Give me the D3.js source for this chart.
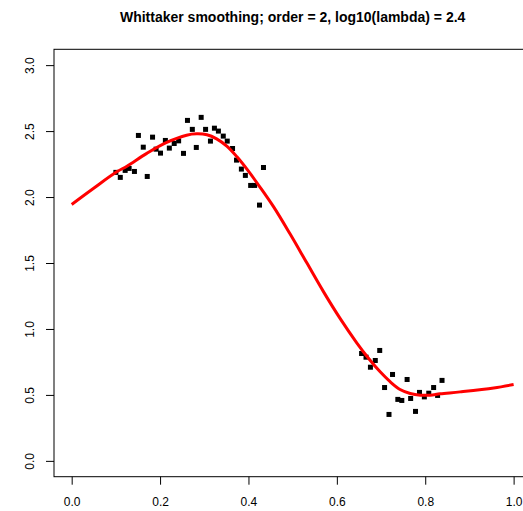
<!DOCTYPE html>
<html>
<head>
<meta charset="utf-8">
<script src="https://cdn.jsdelivr.net/npm/d3@7"></script>
<style>
  html, body { margin: 0; padding: 0; background: #fff; }
  svg { display: block; font-family: "Liberation Sans", Arial, Helvetica, sans-serif; }
</style>
</head>
<body>
<div id="chart"></div>
<script>
// Observed data (x, y)
const pointX = [0.100, 0.110, 0.121, 0.130, 0.142, 0.151, 0.162, 0.171, 0.183, 0.191,
                0.201, 0.212, 0.221, 0.232, 0.242, 0.253, 0.262, 0.273, 0.282, 0.293,
                0.303, 0.314, 0.323, 0.332, 0.343, 0.352, 0.364, 0.373, 0.384, 0.393,
                0.405, 0.414, 0.425, 0.434,
                0.656, 0.666, 0.676, 0.687, 0.697, 0.708, 0.718, 0.726, 0.738, 0.747,
                0.759, 0.767, 0.778, 0.787, 0.798, 0.808, 0.819, 0.828, 0.838];
const pointY = [2.187, 2.149, 2.202, 2.217, 2.194, 2.467, 2.378, 2.156, 2.454, 2.363,
                2.333, 2.429, 2.371, 2.406, 2.426, 2.331, 2.581, 2.513, 2.376, 2.604,
                2.513, 2.424, 2.522, 2.500, 2.462, 2.424, 2.368, 2.280, 2.212, 2.164,
                2.088, 2.088, 1.939, 2.224,
                0.814, 0.786, 0.710, 0.761, 0.837, 0.556, 0.352, 0.655, 0.466, 0.458,
                0.617, 0.473, 0.375, 0.519, 0.485, 0.513, 0.556, 0.496, 0.610];

// Smoothed curve
const curveX = [0.000, 0.049, 0.102, 0.125, 0.170, 0.215, 0.260, 0.283, 0.306, 0.328,
                0.351, 0.374, 0.400, 0.426, 0.457, 0.494, 0.532, 0.570, 0.608, 0.645,
                0.672, 0.698, 0.721, 0.743, 0.766, 0.789, 0.811, 0.834, 0.879, 0.955, 1.000];
const curveY = [1.944, 2.065, 2.191, 2.234, 2.331, 2.414, 2.469, 2.479, 2.472, 2.441,
                2.386, 2.305, 2.196, 2.076, 1.925, 1.721, 1.501, 1.281, 1.076, 0.895,
                0.776, 0.675, 0.599, 0.541, 0.511, 0.498, 0.498, 0.508, 0.523, 0.553, 0.579];

const xTicks = [0, 0.2, 0.4, 0.6, 0.8, 1.0];
const yTicks = [0, 0.5, 1.0, 1.5, 2.0, 2.5, 3.0];
const title = "Whittaker smoothing; order = 2, log10(lambda) = 2.4";

const width = 523, height = 511;
const plot = { left: 54, right: 531.3, top: 49.3, bottom: 476.7 };

const svg = d3.select('#chart')
    .append('svg')
    .attr('width', width)
    .attr('height', height);

const x = d3.scaleLinear().domain([-0.04, 1.04]).range([plot.left, plot.right]);
const y = d3.scaleLinear().domain([-0.12, 3.12]).range([plot.bottom, plot.top]);

// Title
svg.append('text')
    .attr('x', (plot.left + plot.right) / 2)
    .attr('y', 22)
    .attr('text-anchor', 'middle')
    .attr('font-size', '14px')
    .attr('font-weight', 'bold')
    .text(title);

// Box
svg.append('rect')
    .attr('x', plot.left)
    .attr('y', plot.top)
    .attr('width', plot.right - plot.left)
    .attr('height', plot.bottom - plot.top)
    .attr('fill', 'none')
    .attr('stroke', '#000')
    .attr('stroke-width', 1);

// X axis
const xAxis = svg.append('g')
    .attr('transform', `translate(0,${plot.bottom})`)
    .call(d3.axisBottom(x).tickValues(xTicks).tickFormat(d3.format('.1f'))
        .tickSize(8).tickPadding(13).tickSizeOuter(0));
xAxis.select('.domain').remove();
xAxis.selectAll('text').attr('font-size', '12px').attr('fill', '#000').style('font-family', 'inherit');

// Y axis, labels rotated like R's default
const yAxis = svg.append('g')
    .attr('transform', `translate(${plot.left},0)`)
    .call(d3.axisLeft(y).tickValues(yTicks).tickFormat(d3.format('.1f'))
        .tickSize(8).tickSizeOuter(0));
yAxis.select('.domain').remove();
yAxis.selectAll('text')
    .attr('transform', 'rotate(-90)')
    .attr('x', 0)
    .attr('y', -20)
    .attr('dy', '0')
    .attr('text-anchor', 'middle')
    .attr('font-size', '12px')
    .attr('fill', '#000')
    .style('font-family', 'inherit');

// Points
const points = pointX.map((d, i) => ({ x: d, y: pointY[i] }));
const s = 5;
svg.append('g').selectAll('rect').data(points)
    .enter()
    .append('rect')
    .attr('x', d => x(d.x) - s / 2)
    .attr('y', d => y(d.y) - s / 2)
    .attr('width', s)
    .attr('height', s)
    .attr('fill', '#000');

// Smoothed curve
const curve = curveX.map((d, i) => ({ x: d, y: curveY[i] }));
svg.append('path')
    .datum(curve)
    .attr('fill', 'none')
    .attr('stroke', '#ff0000')
    .attr('stroke-width', 3)
    .attr('stroke-linejoin', 'round')
    .attr('d', d3.line().x(d => x(d.x)).y(d => y(d.y)).curve(d3.curveCatmullRom));
</script>
</body>
</html>
